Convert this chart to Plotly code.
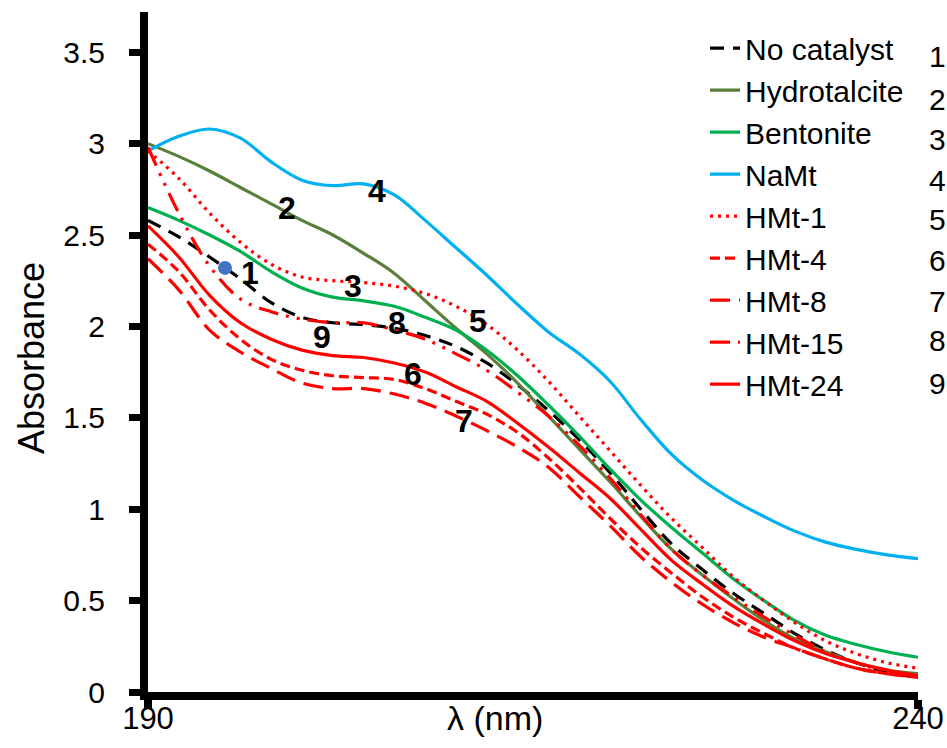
import plotly.graph_objects as go

wavelength = [190, 192, 194, 196, 198, 200, 202, 204, 206, 208, 210, 212, 214,
              216, 218, 220, 222, 224, 226, 228, 230, 232, 234, 236, 238, 240]

no_catalyst = [2.58, 2.49, 2.38, 2.26, 2.13, 2.05, 2.02, 2.01, 1.99, 1.95, 1.89, 1.80, 1.68,
               1.54, 1.38, 1.20, 1.00, 0.81, 0.67, 0.54, 0.43, 0.32, 0.23, 0.16, 0.11, 0.08]
hydrotalcite = [3.00, 2.93, 2.85, 2.76, 2.67, 2.58, 2.50, 2.40, 2.29, 2.14, 1.99, 1.85, 1.69,
                1.51, 1.33, 1.15, 0.96, 0.78, 0.64, 0.51, 0.39, 0.29, 0.22, 0.16, 0.12, 0.10]
bentonite = [2.65, 2.58, 2.50, 2.41, 2.30, 2.21, 2.16, 2.14, 2.11, 2.05, 1.98, 1.87, 1.73,
             1.57, 1.40, 1.22, 1.05, 0.90, 0.76, 0.62, 0.50, 0.39, 0.31, 0.26, 0.22, 0.19]
namt = [2.96, 3.04, 3.08, 3.03, 2.90, 2.80, 2.77, 2.78, 2.72, 2.58, 2.43, 2.28, 2.12,
        1.97, 1.85, 1.70, 1.49, 1.30, 1.16, 1.05, 0.96, 0.88, 0.82, 0.78, 0.75, 0.73]
hmt_1 = [2.96, 2.81, 2.62, 2.46, 2.34, 2.27, 2.25, 2.24, 2.22, 2.18, 2.11, 2.01, 1.87,
         1.70, 1.51, 1.32, 1.13, 0.95, 0.79, 0.63, 0.50, 0.38, 0.28, 0.21, 0.16, 0.13]
hmt_4 = [2.45, 2.30, 2.09, 1.93, 1.82, 1.76, 1.73, 1.72, 1.71, 1.66, 1.59, 1.52, 1.42,
         1.28, 1.12, 0.95, 0.79, 0.65, 0.52, 0.41, 0.32, 0.24, 0.18, 0.13, 0.10, 0.08]
hmt_8 = [2.37, 2.20, 1.98, 1.86, 1.77, 1.69, 1.66, 1.66, 1.63, 1.58, 1.51, 1.43, 1.34,
         1.23, 1.07, 0.91, 0.74, 0.60, 0.48, 0.38, 0.30, 0.24, 0.18, 0.13, 0.10, 0.08]
hmt_15 = [2.98, 2.62, 2.33, 2.15, 2.08, 2.04, 2.02, 2.02, 1.98, 1.93, 1.85, 1.76, 1.64,
          1.51, 1.35, 1.17, 0.97, 0.78, 0.64, 0.52, 0.41, 0.31, 0.22, 0.16, 0.11, 0.09]
hmt_24 = [2.55, 2.38, 2.17, 2.02, 1.93, 1.87, 1.84, 1.83, 1.80, 1.75, 1.67, 1.59, 1.47,
          1.34, 1.20, 1.06, 0.89, 0.72, 0.59, 0.47, 0.37, 0.28, 0.21, 0.16, 0.12, 0.09]

series_names = ["No catalyst", "Hydrotalcite", "Bentonite", "NaMt", "HMt-1",
                "HMt-4", "HMt-8", "HMt-15", "HMt-24"]
series_values = [no_catalyst, hydrotalcite, bentonite, namt, hmt_1,
                 hmt_4, hmt_8, hmt_15, hmt_24]
series_colors = ["#000000", "#5B7F3A", "#00B050", "#00B0F0", "#FF0000",
                 "#FF0000", "#FF0000", "#FF0000", "#FF0000"]
series_dash = ["14px,9px", "solid", "solid", "solid", "3px,5px",
               "10px,5px", "20px,9px", "20px,8px,3px,8px,3px,8px", "solid"]
series_numbers = ["1", "2", "3", "4", "5", "6", "7", "8", "9"]

# curve labels placed in the plot (number, wavelength, absorbance)
label_text = ["1", "2", "3", "4", "5", "6", "7", "8", "9"]
label_x = [196.6, 199.0, 203.3, 204.9, 211.4, 207.2, 210.5, 206.2, 201.3]
label_y = [2.29, 2.65, 2.22, 2.74, 2.03, 1.74, 1.48, 2.02, 1.94]

marker_x = [195.0]
marker_y = [2.32]

y_ticks = [0, 0.5, 1, 1.5, 2, 2.5, 3, 3.5]
y_ticktext = ["0", "0.5", "1", "1.5", "2", "2.5", "3", "3.5"]
x_ticks = [190, 240]
x_ticktext = ["190", "240"]

FONT = "Liberation Sans, Arial, sans-serif"

fig = go.Figure()
for name, vals, col, dash in zip(series_names, series_values, series_colors, series_dash):
    fig.add_trace(go.Scatter(
        x=wavelength, y=vals, name=name, mode="lines",
        line=dict(color=col, width=3.2, dash=dash, shape="spline", smoothing=1.0),
    ))

fig.add_trace(go.Scatter(
    x=marker_x, y=marker_y, mode="markers", showlegend=False,
    marker=dict(color="#4472C4", size=14),
))

for t, lx, ly in zip(label_text, label_x, label_y):
    fig.add_annotation(x=lx, y=ly, text="<b>%s</b>" % t, showarrow=False,
                       font=dict(family=FONT, size=32, color="black"),
                       xanchor="center", yanchor="middle")

# legend number column
Y0, H = 692, 680
num_py = [57, 100, 139, 180, 219, 260, 301, 341, 383]
for t, py in zip(series_numbers, num_py):
    fig.add_annotation(xref="paper", yref="paper", x=(937 - 148) / 770, y=(Y0 - py) / H,
                       text=t, showarrow=False, xanchor="center", yanchor="middle",
                       font=dict(family=FONT, size=30, color="black"))

fig.add_annotation(xref="paper", yref="paper", x=(495 - 148) / 770, y=(Y0 - 718) / H,
                   text="λ (nm)", showarrow=False, xanchor="center", yanchor="middle",
                   font=dict(family=FONT, size=34, color="black"))
fig.add_annotation(xref="paper", yref="paper", x=(31 - 148) / 770, y=(692 - 358) / H,
                   text="Absorbance", showarrow=False, textangle=-90,
                   xanchor="center", yanchor="middle",
                   font=dict(family=FONT, size=36, color="black"))

fig.update_layout(
    width=947, height=748,
    margin=dict(l=148, r=29, t=12, b=56, autoexpand=False),
    paper_bgcolor="white", plot_bgcolor="white",
    showlegend=True,
    legend=dict(x=(705 - 148) / 770, y=0.985, xanchor="left", yanchor="top",
                bgcolor="rgba(0,0,0,0)", borderwidth=0,
                font=dict(family=FONT, size=30, color="black"),
                itemwidth=30, tracegroupgap=0),
    font=dict(family=FONT, color="black"),
)
fig.update_xaxes(range=[190, 240], tickvals=x_ticks, ticktext=x_ticktext,
                 automargin=False,
                 showgrid=False, zeroline=False, showline=True, linecolor="black",
                 linewidth=8, ticks="outside", ticklen=9, tickwidth=8, tickcolor="black",
                 ticklabelstandoff=-17,
                 tickfont=dict(family=FONT, size=31, color="black"))
fig.update_yaxes(range=[0, 3.72], tickvals=y_ticks, ticktext=y_ticktext,
                 automargin=False,
                 showgrid=False, zeroline=False, showline=True, linecolor="black",
                 linewidth=8, ticks="outside", ticklen=11, tickwidth=7, tickcolor="black",
                 ticklabelstandoff=18,
                 tickfont=dict(family=FONT, size=30, color="black"))

fig.write_html("out.html")
